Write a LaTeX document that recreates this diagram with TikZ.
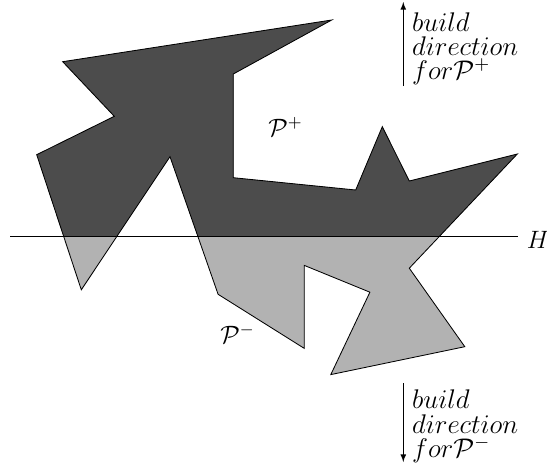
\documentclass[tikz,border=0pt]{standalone}
\usetikzlibrary{positioning}
\definecolor{upgray}{gray}{0.3}
\definecolor{lowgray}{gray}{0.7}
\newcommand{\polyoutline}{(331.7,20) -- (62.7,61.7) -- (114.3,116.3) -- (36.7,154.7)
  -- (81.3,289.8) -- (170,156.7) -- (218.1,294.3) -- (304.3,348.4) -- (304.3,265.4)
  -- (369.9,292.2) -- (330.8,374.6) -- (464.8,346.7) -- (409.3,268.2) -- (517.3,154)
  -- (409.3,181) -- (382.3,126.7) -- (355.7,190) -- (233.3,177.7) -- (233.3,74) -- cycle}

\begin{document}
\begin{tikzpicture}[x=0.478pt,y=-0.478pt,>=latex,
  edgeline/.style={draw=black,line width=0.4pt},
  dirarrow/.style={->,line width=0.3pt},
  partlabel/.style={font=\large,inner sep=0pt},
  dirlabel/.style={font=\fontsize{12}{10.8}\selectfont,align=left,anchor=north west,
    inner sep=0pt,scale=1.075,transform shape}]
\useasboundingbox (0,0) rectangle (547,470);
% the polygon: light below H, dark above H
\fill[lowgray] \polyoutline;
\begin{scope}
\clip (0,0) rectangle (547,236.3);
\fill[upgray] \polyoutline;
\end{scope}
\draw[edgeline] \polyoutline;
% the plane H
\coordinate (hleft) at (10,236.3);
\coordinate (hright) at (518,236.3);
\draw (hleft) -- (hright);
\node[anchor=west,inner sep=0pt,font=\large] (hlabel) at (526.5,240) {$H$};
% the two parts
\node[partlabel] (pplus) at (285.5,127) {$\mathcal{P}^+$};
\node[partlabel] (pminus) at (237.5,334) {$\mathcal{P}^-$};
% build directions
\coordinate (uptail) at (403.3,86);
\coordinate (uphead) at (403.3,2);
\draw[dirarrow] (uptail) -- (uphead);
\node[dirlabel] (uptext) at (411.7,12) {$build$\\$direction$\\$for\mathcal{P}^+$};
\coordinate (downtail) at (403.3,383);
\coordinate (downhead) at (403.3,462);
\draw[dirarrow] (downtail) -- (downhead);
\node[dirlabel] (downtext) at (411.7,389.6) {$build$\\$direction$\\$for\mathcal{P}^-$};
\end{tikzpicture}
\end{document}
